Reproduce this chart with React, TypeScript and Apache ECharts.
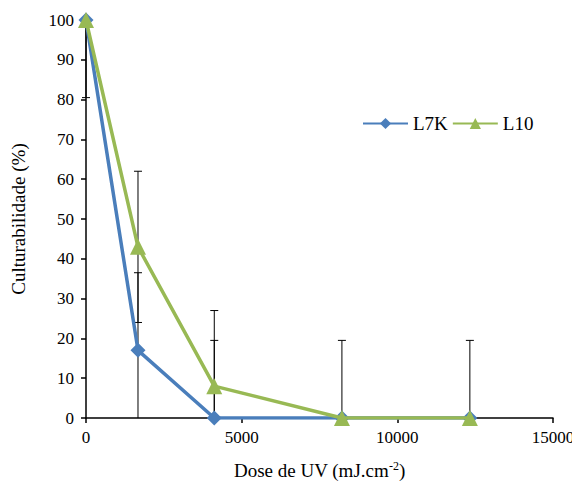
import React, { useEffect, useRef } from "react";
import * as echarts from "echarts";

const doses = [0, 1670, 4120, 8220, 12330];
const l7kValues = [100, 17, 0, 0, 0];
const l10Values = [100, 43, 8, 0, 0];
const l7kErrors = [19.5, 19.5, 19.5, 19.5, 19.5];
const l10Errors = [0, 19, 19, 0, 0];
const yMin = 0;
const yMax = 100;

const FONT = "Liberation Serif";

function errorData(values: number[], errs: number[]) {
  return doses.map((d, i) => [d, values[i] - errs[i], values[i] + errs[i], errs[i]]);
}

export default function App() {
  const ref = useRef<HTMLDivElement>(null);
  useEffect(() => {
    const chart = echarts.init(ref.current!, null, { renderer: "svg" });
    const renderErr = (params: any, api: any) => {
      const x = api.value(0);
      const lo = api.value(1);
      const hi = api.value(2);
      const e = api.value(3);
      if (!e) return null;
      const loC = Math.max(yMin, lo);
      const hiC = Math.min(yMax, hi);
      const p1 = api.coord([x, loC]);
      const p2 = api.coord([x, hiC]);
      const children: any[] = [
        {
          type: "line",
          shape: { x1: p1[0], y1: p1[1], x2: p2[0], y2: p2[1] },
          style: { stroke: "#000", lineWidth: 1 },
        },
      ];
      const cw = 4;
      if (lo >= yMin) {
        children.push({
          type: "line",
          shape: { x1: p1[0] - cw, y1: p1[1], x2: p1[0] + cw, y2: p1[1] },
          style: { stroke: "#000", lineWidth: 1 },
        });
      }
      if (hi <= yMax) {
        children.push({
          type: "line",
          shape: { x1: p2[0] - cw, y1: p2[1], x2: p2[0] + cw, y2: p2[1] },
          style: { stroke: "#000", lineWidth: 1 },
        });
      }
      return { type: "group", children };
    };
    chart.setOption({
      animation: false,
      backgroundColor: "#fff",
      textStyle: { fontFamily: FONT },
      grid: { left: 86, right: 27, top: 20, bottom: 72 },
      legend: {
        left: 357,
        top: 109,
        itemWidth: 45,
        itemHeight: 14,
        itemGap: 4,
        textStyle: { fontFamily: FONT, fontSize: 19, color: "#000" },
        data: ["L7K", "L10"],
      },
      xAxis: {
        type: "value",
        min: 0,
        max: 15000,
        interval: 5000,
        name: "Dose de UV (mJ.cm{sup|-2})",
        nameLocation: "middle",
        nameGap: 42,
        nameTextStyle: {
          fontFamily: FONT,
          fontSize: 19,
          color: "#000",
          rich: { sup: { fontFamily: FONT, fontSize: 12, color: "#000", verticalAlign: "top", padding: [0, 0, 8, 0] } },
        },
        axisLine: { show: true, lineStyle: { color: "#000", width: 1.5 } },
        axisTick: { show: true, length: 5, lineStyle: { color: "#000", width: 1.5 } },
        axisLabel: { fontFamily: FONT, fontSize: 17, color: "#000", margin: 11, formatter: (v: number) => String(v) },
        splitLine: { show: false },
      },
      yAxis: {
        type: "value",
        min: 0,
        max: 100,
        interval: 10,
        name: "Culturabilidade (%)",
        nameLocation: "middle",
        nameGap: 58,
        nameTextStyle: { fontFamily: FONT, fontSize: 19, color: "#000" },
        axisLine: { show: true, lineStyle: { color: "#000", width: 1.5 } },
        axisTick: { show: true, length: 5, lineStyle: { color: "#000", width: 1.5 } },
        axisLabel: { fontFamily: FONT, fontSize: 17, color: "#000", margin: 12 },
        splitLine: { show: false },
      },
      series: [
        {
          name: "L7K err",
          type: "custom",
          renderItem: renderErr,
          data: errorData(l7kValues, l7kErrors),
          z: 1,
          silent: true,
        },
        {
          name: "L10 err",
          type: "custom",
          renderItem: renderErr,
          data: errorData(l10Values, l10Errors),
          z: 1,
          silent: true,
        },
        {
          name: "L7K",
          type: "line",
          data: doses.map((d, i) => [d, l7kValues[i]]),
          symbol: "diamond",
          symbolSize: 15,
          lineStyle: { color: "#4a7ebb", width: 3.5 },
          itemStyle: { color: "#4a7ebb" },
          z: 3,
        },
        {
          name: "L10",
          type: "line",
          data: doses.map((d, i) => [d, l10Values[i]]),
          symbol: "triangle",
          symbolSize: 16,
          lineStyle: { color: "#98b954", width: 3.5 },
          itemStyle: { color: "#98b954" },
          z: 4,
        },
      ],
    });
    return () => chart.dispose();
  }, []);
  return <div ref={ref} style={{ width: 580, height: 490, margin: -8 }} />;
}
